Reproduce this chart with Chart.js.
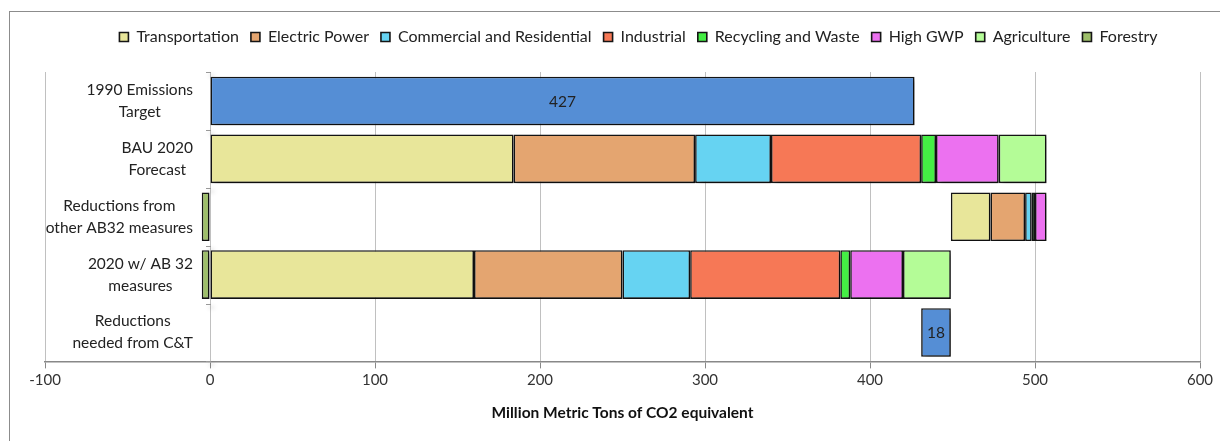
<!DOCTYPE html>
<html lang="en">
<head>
  <meta charset="UTF-8">
  <title>AB32 emissions</title>
  <script src="https://cdn.jsdelivr.net/npm/chart.js"></script>
  <style>
    html, body { margin: 0; background: #fff; overflow: hidden; }
    .frame { position: absolute; left: 9px; top: 11px; width: 1300px; height: 500px; border-left: 1px solid #8c8c8c; border-top: 1px solid #8c8c8c; }
    #chart { position: absolute; left: 0; top: 0; }
  </style>
</head>
<body>
<div class="frame"></div>
<canvas id="chart" width="1220" height="441"></canvas>
<script>
  const categories = [
    ['1990 Emissions', 'Target'],
    ['BAU 2020', 'Forecast'],
    ['Reductions from', 'other AB32 measures'],
    ['2020 w/ AB 32', 'measures'],
    ['Reductions', 'needed from C&T']
  ];
  const sectors = ['Transportation', 'Electric Power', 'Commercial and Residential', 'Industrial',
    'Recycling and Waste', 'High GWP', 'Agriculture', 'Forestry'];
  const sectorColors = ['#e8e69a', '#e4a570', '#66d3f2', '#f67856', '#44ee44', '#ec71f0', '#b4fc97', '#9ebf6a'];

  // per-sector amounts (MMT CO2e), same order as sectors
  const bauForecast = [184, 110, 46, 91, 9, 38, 29, 0];
  const otherMeasures = [24, 21, 4, 0, 2, 7, 0, -5];
  const withAB32 = [160, 90, 41, 91, 6, 32, 29, -5];
  const target1990 = 427;
  const capAndTrade = 18;
  const xTicks = [-100, 0, 100, 200, 300, 400, 500, 600];

  const font = 'Lato';

  // turn amounts into [start, end] pieces laid end to end
  function stackRow(values, base) {
    let pos = base;
    return values.map(v => {
      if (v === 0) return null;
      if (v < 0) return [v, 0];
      const seg = [pos, pos + v];
      pos += v;
      return seg;
    });
  }
  const ab32Total = withAB32.filter(v => v > 0).reduce((a, b) => a + b, 0);
  const bauRow = stackRow(bauForecast, 0);
  const otherRow = stackRow(otherMeasures, ab32Total);
  const ab32Row = stackRow(withAB32, 0);

  const datasets = [{
    label: 'Total',
    data: [[0, target1990], null, null, null, [ab32Total - capAndTrade, ab32Total]],
    backgroundColor: '#558ed5',
    borderColor: '#151515',
    borderWidth: 1.6,
    borderSkipped: false
  }];
  sectors.forEach((name, i) => {
    datasets.push({
      label: name,
      data: [null, bauRow[i], otherRow[i], ab32Row[i], null],
      backgroundColor: sectorColors[i],
      borderColor: '#151515',
      borderWidth: 1.6,
      borderSkipped: false
    });
  });

  // extra room under the legend, and nudge it right like the original
  const legendMargin = {
    id: 'legendMargin',
    beforeInit(chart) {
      const fit = chart.legend.fit;
      chart.legend.fit = function () {
        fit.bind(chart.legend)();
        this.height += 17;
      };
    },
    afterLayout(chart) {
      chart.legend.left += 16;
      chart.legend.right += 16;
    }
  };

  const barShadow = {
    id: 'barShadow',
    beforeDatasetsDraw(chart) {
      const ctx = chart.ctx;
      ctx.save();
      ctx.shadowColor = 'rgba(0,0,0,0.35)';
      ctx.shadowBlur = 4;
      ctx.shadowOffsetX = 3;
      ctx.shadowOffsetY = 3;
    },
    afterDatasetsDraw(chart) {
      chart.ctx.restore();
    }
  };

  // row labels sit next to the zero line, like the original
  const rowLabels = {
    id: 'rowLabels',
    beforeDatasetsDraw(chart) {
      const { ctx, scales: { x, y } } = chart;
      const x0 = x.getPixelForValue(0);
      ctx.save();
      ctx.strokeStyle = '#999';
      ctx.lineWidth = 1;
      for (let i = 0; i <= categories.length; i++) {
        const yy = Math.round(y.getPixelForValue(i - 0.5)) + 0.5;
        ctx.beginPath();
        ctx.moveTo(x0 - 4, yy);
        ctx.lineTo(x0 + 1, yy);
        ctx.stroke();
      }
      ctx.restore();
    },
    afterDraw(chart) {
      const { ctx, scales: { x, y } } = chart;
      const x0 = x.getPixelForValue(0);
      ctx.save();
      ctx.font = '15.5px ' + font;
      ctx.fillStyle = '#222';
      ctx.textAlign = 'center';
      ctx.textBaseline = 'middle';
      categories.forEach((lines, i) => {
        const yc = y.getPixelForValue(i);
        const w = Math.max(...lines.map(t => ctx.measureText(t).width));
        const cx = x0 - 17 - w / 2;
        lines.forEach((t, j) => ctx.fillText(t, cx, yc + (j - (lines.length - 1) / 2) * 22));
      });
      // value labels in the blue bars
      const meta = chart.getDatasetMeta(0);
      meta.data.forEach((bar, i) => {
        const raw = chart.data.datasets[0].data[i];
        if (!raw) return;
        ctx.fillText(String(raw[1] - raw[0]), (bar.x + bar.base) / 2, bar.y + 1);
      });
      ctx.restore();
    }
  };

  new Chart(document.getElementById('chart'), {
    type: 'bar',
    data: {
      labels: categories.map(l => l.join(' ')),
      datasets: datasets
    },
    plugins: [legendMargin, barShadow, rowLabels],
    options: {
      indexAxis: 'y',
      responsive: false,
      animation: false,
      categoryPercentage: 1,
      barPercentage: 0.84,
      layout: { padding: { top: 17, left: 45, right: 20, bottom: 15 } },
      plugins: {
        tooltip: { enabled: false },
        legend: {
          position: 'top',
          labels: {
            filter: item => item.text !== 'Total',
            boxWidth: 9,
            boxHeight: 9,
            padding: 12,
            color: '#222',
            font: { family: font, size: 16 }
          }
        }
      },
      scales: {
        x: {
          stacked: false,
          min: xTicks[0],
          max: xTicks[xTicks.length - 1],
          afterBuildTicks: scale => { scale.ticks = xTicks.map(v => ({ value: v })); },
          grid: { color: '#c0c0c0', lineWidth: 1, tickLength: 7, tickColor: '#888' },
          border: { color: '#888', width: 1.5 },
          ticks: { color: '#333', padding: 3, font: { family: font, size: 15 } },
          title: {
            display: true,
            text: 'Million Metric Tons of CO2 equivalent',
            color: '#111',
            font: { family: font, size: 15.5, weight: 'bold' },
            padding: { top: 11, bottom: 4 }
          }
        },
        y: {
          type: 'category',
          stacked: true,
          display: false
        }
      }
    }
  });
</script>
</body>
</html>
